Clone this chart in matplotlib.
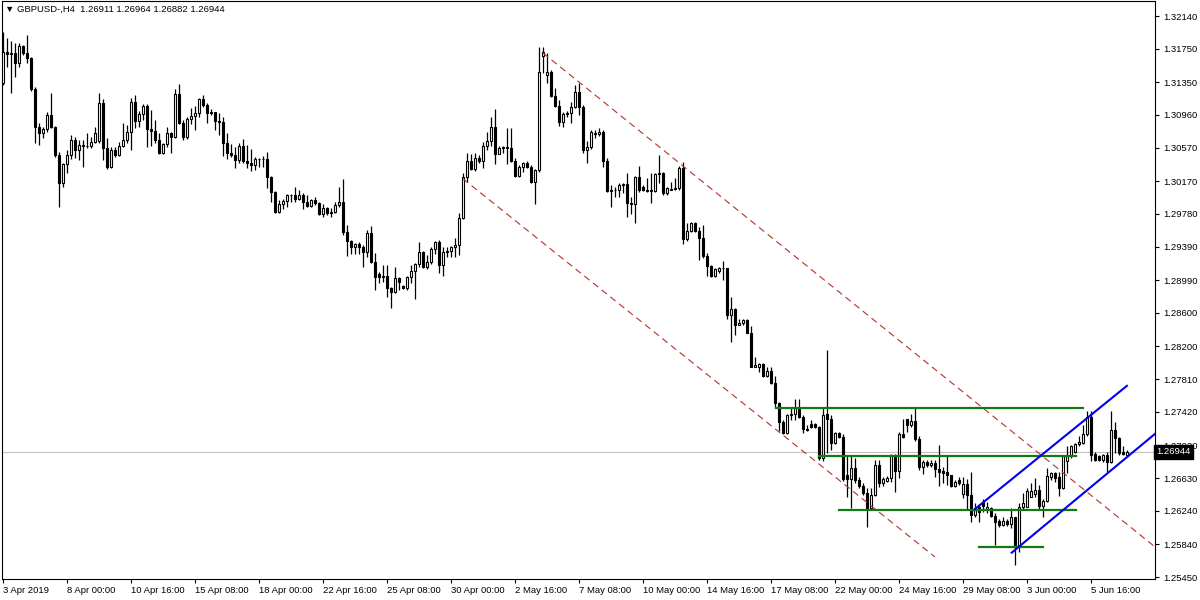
import matplotlib
matplotlib.use("Agg")
import matplotlib.pyplot as plt
import numpy as np

# GBPUSD H4 candles (bar index = position on the chart)
opens = [1.3134, 1.3171, 1.3169, 1.3170, 1.3158, 1.3178, 1.3170, 1.3164, 1.3127, 1.3082,
         1.3075, 1.3079, 1.3096, 1.3082, 1.3048, 1.3015, 1.3038, 1.3048, 1.3066, 1.3054,
         1.3060, 1.3059, 1.3059, 1.3064, 1.3065, 1.3110, 1.3057, 1.3034, 1.3054, 1.3048,
         1.3059, 1.3066, 1.3076, 1.3112, 1.3089, 1.3097, 1.3107, 1.3079, 1.3077, 1.3066,
         1.3051, 1.3061, 1.3075, 1.3070, 1.3121, 1.3086, 1.3070, 1.3091, 1.3095, 1.3098,
         1.3115, 1.3108, 1.3098, 1.3099, 1.3089, 1.3088, 1.3063, 1.3051, 1.3048, 1.3042,
         1.3059, 1.3041, 1.3039, 1.3036, 1.3044, 1.3044, 1.3043, 1.3022, 1.3004, 1.2980,
         1.2990, 1.2993, 1.3001, 1.3001, 1.2996, 1.3001, 1.2992, 1.2987, 1.2995, 1.2991,
         1.2978, 1.2985, 1.2979, 1.2980, 1.2989, 1.2992, 1.2956, 1.2946, 1.2939, 1.2942,
         1.2938, 1.2933, 1.2955, 1.2921, 1.2906, 1.2903, 1.2904, 1.2890, 1.2885, 1.2902,
         1.2892, 1.2890, 1.2903, 1.2910, 1.2918, 1.2933, 1.2915, 1.2921, 1.2936, 1.2944,
         1.2917, 1.2933, 1.2934, 1.2939, 1.2941, 1.2973, 1.3022, 1.3041, 1.3032, 1.3045,
         1.3041, 1.3059, 1.3065, 1.3082, 1.3050, 1.3057, 1.3058, 1.3057, 1.3041, 1.3023,
         1.3034, 1.3039, 1.3034, 1.3016, 1.3030, 1.3166, 1.3144, 1.3147, 1.3119, 1.3107,
         1.3088, 1.3097, 1.3098, 1.3106, 1.3123, 1.3106, 1.3054, 1.3058, 1.3073, 1.3073,
         1.3076, 1.3041, 1.3005, 1.3006, 1.3006, 1.3012, 1.3014, 1.2991, 1.2990, 1.3022,
         1.3010, 1.3007, 1.3007, 1.3005, 1.3026, 1.3027, 1.3003, 1.3007, 1.3008, 1.3009,
         1.3033, 1.2948, 1.2958, 1.2967, 1.2958, 1.2949, 1.2928, 1.2916, 1.2904, 1.2910,
         1.2913, 1.2913, 1.2858, 1.2865, 1.2846, 1.2848, 1.2852, 1.2836, 1.2796, 1.2795,
         1.2799, 1.2785, 1.2791, 1.2776, 1.2753, 1.2730, 1.2717, 1.2738, 1.2740, 1.2747,
         1.2736, 1.2722, 1.2728, 1.2728, 1.2724, 1.2687, 1.2740, 1.2734, 1.2705, 1.2717,
         1.2712, 1.2667, 1.2662, 1.2675, 1.2661, 1.2654, 1.2645, 1.2627, 1.2643, 1.2679,
         1.2657, 1.2660, 1.2663, 1.2690, 1.2672, 1.2715, 1.2733, 1.2726, 1.2731, 1.2710,
         1.2676, 1.2682, 1.2678, 1.2681, 1.2674, 1.2671, 1.2670, 1.2667, 1.2654, 1.2661,
         1.2644, 1.2656, 1.2643, 1.2619, 1.2628, 1.2634, 1.2625, 1.2627, 1.2618, 1.2612,
         1.2607, 1.2612, 1.2608, 1.2616, 1.2581, 1.2629, 1.2629, 1.2641, 1.2644, 1.2649,
         1.2630, 1.2636, 1.2664, 1.2669, 1.2664, 1.2651, 1.2683, 1.2689, 1.2694, 1.2704,
         1.2705, 1.2715, 1.2736, 1.2692, 1.2689, 1.2685, 1.2690, 1.2682, 1.2720, 1.2711,
         1.2694, 1.26911]
highs = [1.3195, 1.3188, 1.3184, 1.3182, 1.3182, 1.3179, 1.3191, 1.3165, 1.3129, 1.3086,
         1.3082, 1.3100, 1.3122, 1.3083, 1.3052, 1.3039, 1.3054, 1.3072, 1.3070, 1.3066,
         1.3066, 1.3075, 1.3070, 1.3082, 1.3122, 1.3115, 1.3069, 1.3058, 1.3058, 1.3064,
         1.3086, 1.3084, 1.3116, 1.3120, 1.3101, 1.3109, 1.3109, 1.3102, 1.3090, 1.3075,
         1.3063, 1.3082, 1.3076, 1.3127, 1.3133, 1.3090, 1.3093, 1.3104, 1.3107, 1.3116,
         1.3120, 1.3110, 1.3103, 1.3100, 1.3098, 1.3093, 1.3075, 1.3061, 1.3058, 1.3063,
         1.3067, 1.3060, 1.3056, 1.3046, 1.3045, 1.3047, 1.3052, 1.3023, 1.3005, 1.2995,
         1.2996, 1.3002, 1.3002, 1.3010, 1.3007, 1.3003, 1.3001, 1.2996, 1.2998, 1.2992,
         1.2990, 1.2986, 1.2985, 1.2992, 1.3010, 1.3020, 1.2965, 1.2947, 1.2943, 1.2944,
         1.2941, 1.2959, 1.2964, 1.2931, 1.2909, 1.2917, 1.2917, 1.2891, 1.2915, 1.2903,
         1.2893, 1.2904, 1.2917, 1.2919, 1.2945, 1.2934, 1.2929, 1.2939, 1.2946, 1.2947,
         1.2938, 1.2939, 1.2940, 1.2949, 1.2979, 1.3027, 1.3051, 1.3050, 1.3051, 1.3048,
         1.3064, 1.3076, 1.3093, 1.3103, 1.3059, 1.3059, 1.3081, 1.3081, 1.3045, 1.3036,
         1.3040, 1.3041, 1.3036, 1.3032, 1.3177, 1.3177, 1.3170, 1.3150, 1.3128, 1.3114,
         1.3100, 1.3101, 1.3112, 1.3132, 1.3134, 1.3108, 1.3065, 1.3078, 1.3078, 1.3081,
         1.3078, 1.3045, 1.3012, 1.3010, 1.3015, 1.3015, 1.3027, 1.2998, 1.3023, 1.3035,
         1.3012, 1.3021, 1.3027, 1.3027, 1.3048, 1.3028, 1.3010, 1.3016, 1.3021, 1.3035,
         1.3040, 1.2967, 1.2968, 1.2968, 1.2962, 1.2965, 1.2931, 1.2917, 1.2913, 1.2915,
         1.2922, 1.2914, 1.2879, 1.2866, 1.2853, 1.2853, 1.2853, 1.2844, 1.2807, 1.2800,
         1.2800, 1.2795, 1.2795, 1.2785, 1.2754, 1.2732, 1.2740, 1.2747, 1.2757, 1.2757,
         1.2738, 1.2726, 1.2732, 1.2729, 1.2725, 1.2747, 1.2816, 1.2738, 1.2718, 1.2718,
         1.2715, 1.2689, 1.2691, 1.2687, 1.2664, 1.2657, 1.2651, 1.2651, 1.2685, 1.2685,
         1.2664, 1.2666, 1.2692, 1.2692, 1.2718, 1.2733, 1.2734, 1.2740, 1.2747, 1.2713,
         1.2685, 1.2685, 1.2685, 1.2685, 1.2703, 1.2676, 1.2691, 1.2667, 1.2661, 1.2664,
         1.2664, 1.2662, 1.2670, 1.2633, 1.2632, 1.2638, 1.2635, 1.2629, 1.2621, 1.2614,
         1.2616, 1.2614, 1.2627, 1.2617, 1.2633, 1.2645, 1.2651, 1.2657, 1.2663, 1.2655,
         1.2638, 1.2675, 1.2670, 1.2670, 1.2670, 1.2689, 1.2701, 1.2703, 1.2705, 1.2713,
         1.2726, 1.2743, 1.2743, 1.2694, 1.2691, 1.2692, 1.2694, 1.2743, 1.2730, 1.2712,
         1.2701, 1.26964]
lows = [1.3132, 1.3153, 1.3122, 1.3141, 1.3153, 1.3168, 1.3158, 1.3125, 1.3063, 1.3060,
        1.3069, 1.3076, 1.3081, 1.3046, 1.2986, 1.3010, 1.3027, 1.3044, 1.3045, 1.3042,
        1.3034, 1.3057, 1.3057, 1.3063, 1.3063, 1.3042, 1.3032, 1.3033, 1.3046, 1.3047,
        1.3058, 1.3063, 1.3054, 1.3081, 1.3082, 1.3090, 1.3058, 1.3059, 1.3063, 1.3050,
        1.3050, 1.3058, 1.3051, 1.3069, 1.3085, 1.3066, 1.3067, 1.3085, 1.3078, 1.3093,
        1.3106, 1.3086, 1.3096, 1.3078, 1.3072, 1.3047, 1.3044, 1.3046, 1.3033, 1.3039,
        1.3039, 1.3033, 1.3029, 1.3030, 1.3034, 1.3034, 1.3009, 1.2992, 1.2979, 1.2979,
        1.2984, 1.2986, 1.2992, 1.2992, 1.2995, 1.2984, 1.2986, 1.2986, 1.2989, 1.2977,
        1.2974, 1.2977, 1.2974, 1.2979, 1.2986, 1.2953, 1.2928, 1.2930, 1.2930, 1.2930,
        1.2915, 1.2927, 1.2920, 1.2887, 1.2896, 1.2897, 1.2879, 1.2866, 1.2884, 1.2887,
        1.2889, 1.2887, 1.2896, 1.2877, 1.2915, 1.2914, 1.2912, 1.2918, 1.2930, 1.2908,
        1.2904, 1.2927, 1.2927, 1.2927, 1.2929, 1.2972, 1.3016, 1.3030, 1.3029, 1.3039,
        1.3033, 1.3054, 1.3059, 1.3038, 1.3049, 1.3051, 1.3038, 1.3040, 1.3022, 1.3022,
        1.3028, 1.3033, 1.3015, 1.2990, 1.3028, 1.3146, 1.3134, 1.3118, 1.3106, 1.3083,
        1.3082, 1.3093, 1.3086, 1.3104, 1.3096, 1.3051, 1.3039, 1.3056, 1.3069, 1.3071,
        1.3034, 1.3004, 1.2986, 1.2998, 1.2998, 1.3003, 1.2974, 1.2978, 1.2967, 1.3004,
        1.3005, 1.3004, 1.2991, 1.3004, 1.3015, 1.3001, 1.3000, 1.3006, 1.3006, 1.3006,
        1.2942, 1.2946, 1.2956, 1.2956, 1.2923, 1.2926, 1.2904, 1.2903, 1.2903, 1.2908,
        1.2899, 1.2853, 1.2825, 1.2834, 1.2845, 1.2845, 1.2836, 1.2795, 1.2795, 1.2790,
        1.2784, 1.2784, 1.2775, 1.2748, 1.2719, 1.2715, 1.2715, 1.2732, 1.2732, 1.2735,
        1.2717, 1.2719, 1.2723, 1.2723, 1.2684, 1.2683, 1.2693, 1.2696, 1.2704, 1.2711,
        1.2660, 1.2641, 1.2627, 1.2657, 1.2651, 1.2643, 1.2605, 1.2625, 1.2642, 1.2652,
        1.2654, 1.2658, 1.2658, 1.2646, 1.2663, 1.2711, 1.2718, 1.2724, 1.2707, 1.2673,
        1.2668, 1.2676, 1.2676, 1.2664, 1.2654, 1.2657, 1.2655, 1.2652, 1.2652, 1.2655,
        1.2639, 1.2625, 1.2611, 1.2617, 1.2611, 1.2622, 1.2621, 1.2617, 1.2583, 1.2605,
        1.2606, 1.2606, 1.2604, 1.2559, 1.2575, 1.2626, 1.2628, 1.2640, 1.2641, 1.2626,
        1.2617, 1.2635, 1.2661, 1.2658, 1.2642, 1.2650, 1.2669, 1.2687, 1.2693, 1.2701,
        1.2704, 1.2713, 1.2683, 1.2683, 1.2683, 1.2682, 1.2670, 1.2681, 1.2693, 1.2691,
        1.2690, 1.26882]
closes = [1.3171, 1.3169, 1.3170, 1.3158, 1.3178, 1.3170, 1.3164, 1.3127, 1.3082, 1.3075,
          1.3079, 1.3096, 1.3082, 1.3048, 1.3015, 1.3038, 1.3048, 1.3066, 1.3054, 1.3060,
          1.3059, 1.3059, 1.3064, 1.3075, 1.3110, 1.3057, 1.3034, 1.3054, 1.3048, 1.3059,
          1.3066, 1.3076, 1.3112, 1.3089, 1.3097, 1.3107, 1.3079, 1.3077, 1.3066, 1.3051,
          1.3061, 1.3075, 1.3070, 1.3121, 1.3086, 1.3070, 1.3091, 1.3095, 1.3098, 1.3115,
          1.3108, 1.3098, 1.3099, 1.3089, 1.3088, 1.3063, 1.3051, 1.3048, 1.3042, 1.3059,
          1.3041, 1.3039, 1.3036, 1.3044, 1.3044, 1.3043, 1.3022, 1.3004, 1.2980, 1.2990,
          1.2993, 1.3001, 1.3001, 1.2996, 1.3001, 1.2992, 1.2987, 1.2995, 1.2991, 1.2978,
          1.2985, 1.2979, 1.2980, 1.2989, 1.2992, 1.2956, 1.2946, 1.2939, 1.2942, 1.2938,
          1.2933, 1.2955, 1.2921, 1.2903, 1.2903, 1.2904, 1.2890, 1.2885, 1.2902, 1.2897,
          1.2890, 1.2903, 1.2910, 1.2918, 1.2933, 1.2915, 1.2921, 1.2936, 1.2944, 1.2917,
          1.2933, 1.2934, 1.2939, 1.2941, 1.2973, 1.3022, 1.3041, 1.3032, 1.3045, 1.3041,
          1.3059, 1.3065, 1.3082, 1.3050, 1.3057, 1.3058, 1.3057, 1.3041, 1.3023, 1.3034,
          1.3039, 1.3034, 1.3016, 1.3030, 1.3147, 1.3171, 1.3147, 1.3119, 1.3107, 1.3088,
          1.3097, 1.3098, 1.3106, 1.3123, 1.3106, 1.3054, 1.3058, 1.3076, 1.3075, 1.3076,
          1.3041, 1.3005, 1.3006, 1.3006, 1.3012, 1.3014, 1.2991, 1.2990, 1.3022, 1.3007,
          1.3007, 1.3005, 1.3005, 1.3026, 1.3027, 1.3003, 1.3009, 1.3008, 1.3009, 1.3033,
          1.2948, 1.2958, 1.2967, 1.2958, 1.2949, 1.2928, 1.2916, 1.2904, 1.2912, 1.2913,
          1.2913, 1.2858, 1.2865, 1.2846, 1.2848, 1.2852, 1.2836, 1.2796, 1.2798, 1.2799,
          1.2785, 1.2791, 1.2776, 1.2753, 1.2730, 1.2717, 1.2738, 1.2740, 1.2747, 1.2736,
          1.2722, 1.2720, 1.2724, 1.2724, 1.2687, 1.2738, 1.2734, 1.2705, 1.2717, 1.2712,
          1.2662, 1.2662, 1.2675, 1.2661, 1.2654, 1.2645, 1.2627, 1.2643, 1.2679, 1.2657,
          1.2662, 1.2663, 1.2690, 1.2672, 1.2715, 1.2712, 1.2726, 1.2731, 1.2710, 1.2676,
          1.2682, 1.2679, 1.2681, 1.2674, 1.2670, 1.2669, 1.2667, 1.2654, 1.2658, 1.2657,
          1.2656, 1.2643, 1.2619, 1.2625, 1.2622, 1.2630, 1.2629, 1.2618, 1.2611, 1.2607,
          1.2612, 1.2608, 1.2616, 1.2581, 1.2629, 1.2633, 1.2647, 1.2647, 1.2649, 1.2630,
          1.2636, 1.2666, 1.2669, 1.2663, 1.2651, 1.2689, 1.2691, 1.2701, 1.2704, 1.2706,
          1.2715, 1.2736, 1.2691, 1.2685, 1.2685, 1.2690, 1.2682, 1.2720, 1.2711, 1.2693,
          1.2692, 1.26944]

time_labels = ["3 Apr 2019", "8 Apr 00:00", "10 Apr 16:00", "15 Apr 08:00", "18 Apr 00:00",
               "22 Apr 16:00", "25 Apr 08:00", "30 Apr 00:00", "2 May 16:00", "7 May 08:00",
               "10 May 00:00", "14 May 16:00", "17 May 08:00", "22 May 00:00", "24 May 16:00",
               "29 May 08:00", "3 Jun 00:00", "5 Jun 16:00"]
price_ticks = [1.32140, 1.31750, 1.31350, 1.30960, 1.30570, 1.30170, 1.29780, 1.29390,
               1.28990, 1.28600, 1.28200, 1.27810, 1.27420, 1.27020, 1.26630, 1.26240,
               1.25840, 1.25450]
last_price = 1.26944

# drawn objects: (bar, price) end points
red_channel = [((134.9, 1.3170), (287.9, 1.2581)),
               ((114.9, 1.3020), (232.9, 1.2569))]
green_levels = [(193.2, 270.0, 1.2747), (204.0, 268.1, 1.2689),
                (208.9, 268.1, 1.2625), (244.0, 260.0, 1.2581)]
blue_channel = [((242.9, 1.2626), (280.9, 1.2773)),
                ((252.1, 1.2574), (288.0, 1.2716))]

plt.rcParams['font.family'] = ['Liberation Sans', 'DejaVu Sans']

fig = plt.figure(figsize=(12, 6), dpi=100)
ax = fig.add_axes([2 / 1200, 21 / 600, 1153 / 1200, 578 / 600])

o = np.array(opens); h = np.array(highs); l = np.array(lows); c = np.array(closes)
x = np.arange(len(o))

ax.axhline(last_price, color='#c0c0c0', lw=0.8, zorder=1)

# wicks
ax.vlines(x, l, h, color='black', lw=0.9, zorder=3)
# bodies
up = c >= o
bot = np.minimum(o, c)
ht = np.abs(c - o)
ax.bar(x[up], ht[up], bottom=bot[up], width=0.5, color='white',
       edgecolor='black', linewidth=0.8, zorder=4)
ax.bar(x[~up], ht[~up], bottom=bot[~up], width=0.5, color='black',
       edgecolor='black', linewidth=0.8, zorder=4)

for (x0, y0), (x1, y1) in red_channel:
    ax.plot([x0, x1], [y0, y1], color='#b5312a', lw=0.8, dashes=(6, 4), zorder=5)
for x0, x1, y in green_levels:
    ax.plot([x0, x1], [y, y], color='#137a13', lw=1.6, zorder=5)
for (x0, y0), (x1, y1) in blue_channel:
    ax.plot([x0, x1], [y0, y1], color='#0000ee', lw=1.5, zorder=5)

ax.set_xlim(-0.325, 287.925)
ax.set_ylim(1.254264, 1.323191)

ax.yaxis.tick_right()
ax.set_yticks(price_ticks)
ax.set_yticklabels(["%.5f" % v for v in price_ticks])
ax.tick_params(axis='y', direction='out', length=3, width=0.8, pad=3,
               labelsize=6.8, colors='black')

xt = np.arange(0, 16 * len(time_labels), 16)
ax.set_xticks(xt)
ax.set_xticklabels(time_labels, ha='left')
ax.tick_params(axis='x', direction='out', length=3, width=0.8, pad=2,
               labelsize=6.8, colors='black')
for lab in ax.get_xticklabels():
    lab.set_x(lab.get_position()[0])

for s in ax.spines.values():
    s.set_color('black')
    s.set_linewidth(0.8)

# current price marker on the axis
ax.text(1.0015, last_price, "%.5f" % last_price, transform=ax.get_yaxis_transform(),
        ha='left', va='center', fontsize=6.8, color='white',
        bbox=dict(boxstyle='square,pad=0.25', fc='black', ec='black'))

ax.text(0.003, 0.993, "\u25bc GBPUSD-,H4  1.26911 1.26964 1.26882 1.26944",
        transform=ax.transAxes, ha='left', va='top', fontsize=6.8, color='black')

fig.savefig("out.png", dpi=100)
